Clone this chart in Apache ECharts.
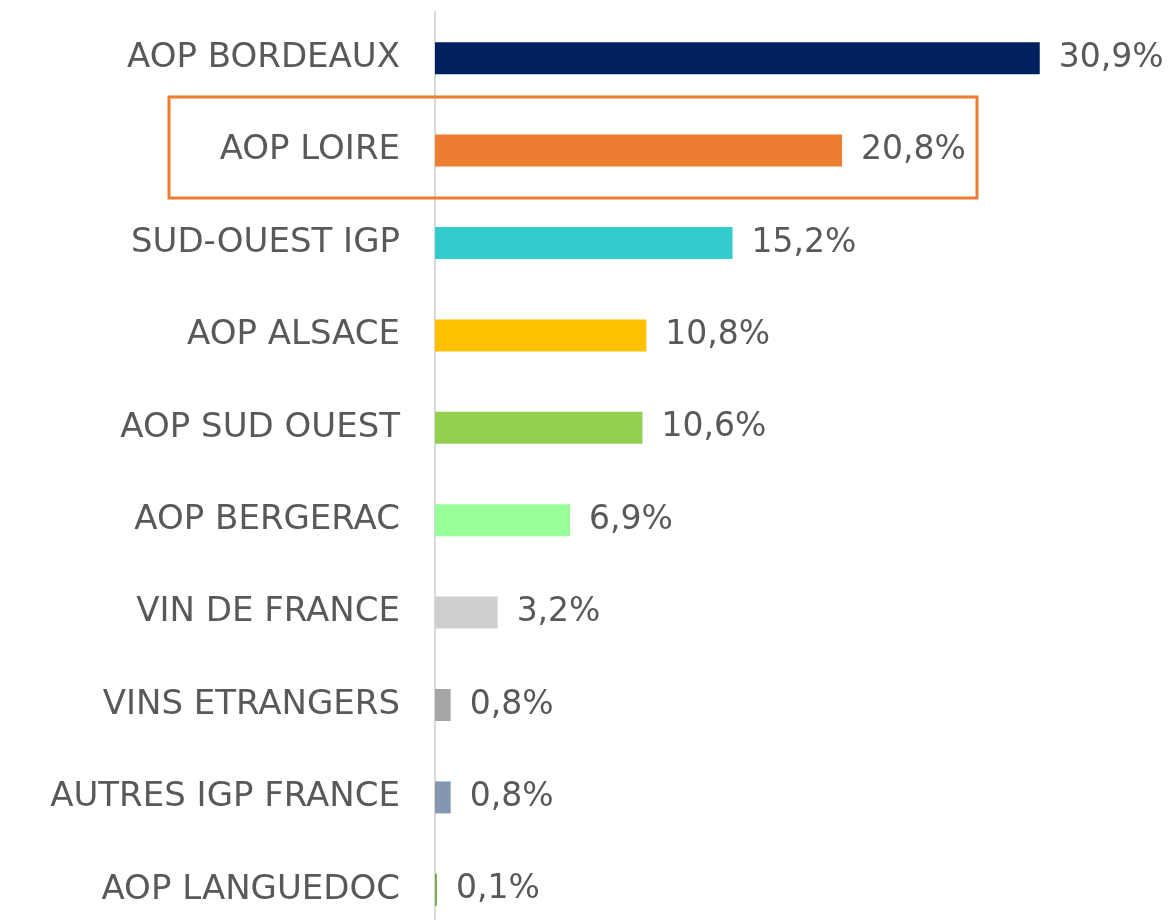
<!DOCTYPE html>
<html>
<head>
<meta charset="utf-8">
<script src="https://cdn.jsdelivr.net/npm/echarts@6/dist/echarts.min.js"></script>
<style>
  html, body { margin: 0; padding: 0; background: #fff; }
  #myChart { width: 1169px; height: 920px; }
</style>
</head>
<body>
<div id="myChart"></div>
<script>
// categories top to bottom
var categories = ['AOP BORDEAUX', 'AOP LOIRE', 'SUD-OUEST IGP', 'AOP ALSACE', 'AOP SUD OUEST',
  'AOP BERGERAC', 'VIN DE FRANCE', 'VINS ETRANGERS', 'AUTRES IGP FRANCE', 'AOP LANGUEDOC']
var shares = [30.9, 20.8, 15.2, 10.8, 10.6, 6.9, 3.2, 0.8, 0.8, 0.1]
var barColors = ['#002060', '#ED7D31', '#33CCCC', '#FFC000', '#92D050',
  '#99FF99', '#D0CECE', '#A6A6A6', '#8497B0', '#70AD47']

var textColor = '#595959'
var font = '"DejaVu Sans", sans-serif'

var myChart = echarts.init(document.getElementById('myChart'))
myChart.setOption({
  animation: false,
  grid: {
    left: 435,
    top: 12,
    width: 685,
    height: 924,
    outerBoundsMode: 'none'
  },
  xAxis: {
    type: 'value',
    min: 0,
    max: 35,
    show: false
  },
  yAxis: {
    type: 'category',
    inverse: true,
    data: categories,
    axisTick: { show: false },
    axisLine: { show: true, lineStyle: { color: '#D9D9D9', width: 2 } },
    axisLabel: {
      margin: 35,
      color: textColor,
      fontFamily: font,
      fontSize: 34
    }
  },
  series: [
    {
      type: 'bar',
      barWidth: 32,
      data: shares.map(function (v, i) {
        return { value: v, itemStyle: { color: barColors[i] } }
      }),
      label: {
        show: true,
        position: 'right',
        distance: 19,
        color: textColor,
        fontFamily: font,
        fontSize: 33,
        formatter: function (p) {
          return p.value.toFixed(1).replace('.', ',') + '%'
        }
      }
    }
  ],
  // highlight box round the LOIRE row
  graphic: [
    {
      type: 'rect',
      shape: { x: 169, y: 97, width: 808, height: 101 },
      style: { fill: 'none', stroke: '#ED7D31', lineWidth: 3 },
      z: 10
    }
  ]
})
</script>
</body>
</html>
